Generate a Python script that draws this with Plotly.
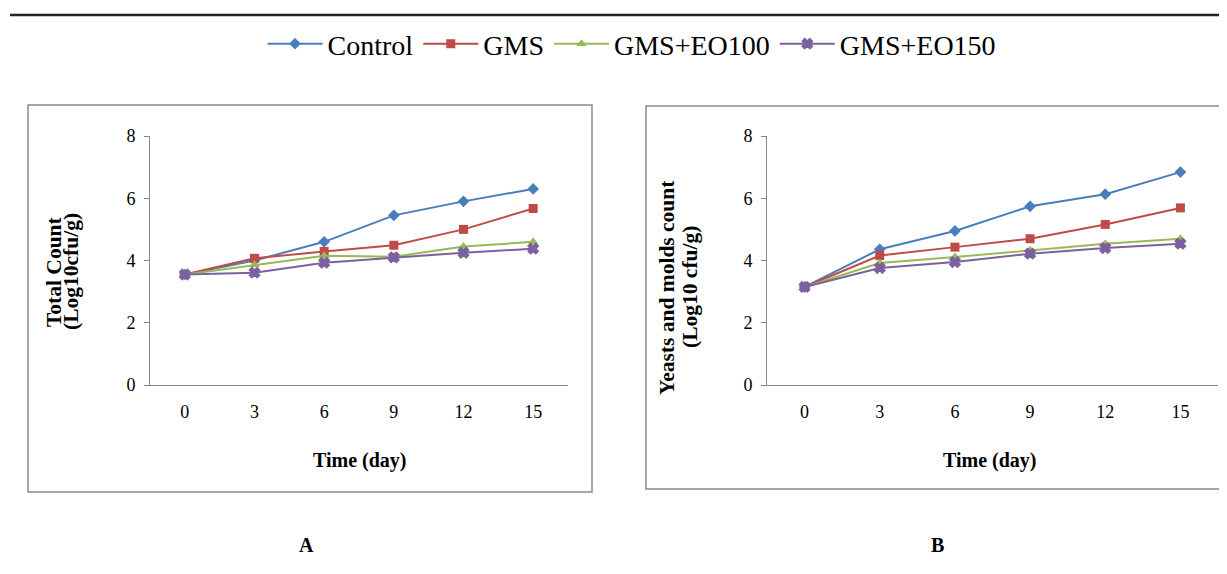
import plotly.graph_objects as go

days = ["0", "3", "6", "9", "12", "15"]
series_names = ["Control", "GMS", "GMS+EO100", "GMS+EO150"]

# Panel A: Total Count (Log10 cfu/g)
total_control = [3.55, 4.0, 4.6, 5.45, 5.9, 6.3]
total_gms = [3.55, 4.07, 4.29, 4.49, 5.0, 5.67]
total_eo100 = [3.55, 3.86, 4.15, 4.12, 4.45, 4.6]
total_eo150 = [3.55, 3.61, 3.93, 4.1, 4.25, 4.38]

# Panel B: Yeasts and molds count (Log10 cfu/g)
ym_control = [3.15, 4.36, 4.95, 5.74, 6.13, 6.84]
ym_gms = [3.15, 4.16, 4.43, 4.7, 5.16, 5.69]
ym_eo100 = [3.15, 3.92, 4.11, 4.33, 4.54, 4.7]
ym_eo150 = [3.15, 3.76, 3.95, 4.22, 4.4, 4.54]

colors = ["#4A7EBB", "#BE4B48", "#98B954", "#7D60A0"]
symbols = ["diamond", "square", "triangle-up", "x"]

W, H = 1227, 574
OFF = 8  # page body offset
SERIF = "Liberation Serif"

def px(x):
    return (x - OFF) / W

def py(y):
    return 1 - (y - OFF) / H

fig = go.Figure()

panelA = [total_control, total_gms, total_eo100, total_eo150]
panelB = [ym_control, ym_gms, ym_eo100, ym_eo150]

def add_panel(data, xa, ya, show):
    for i, name in enumerate(series_names):
        fig.add_trace(go.Scatter(
            x=days, y=data[i], name=name, mode="lines+markers",
            line=dict(color=colors[i], width=2),
            marker=dict(symbol=symbols[i], size=9, color=colors[i],
                        line=dict(color=colors[i], width=1.5 if symbols[i] == "x" else 0)),
            xaxis=xa, yaxis=ya, showlegend=show, legendgroup=name,
        ))

add_panel(panelA, "x", "y", True)
add_panel(panelB, "x2", "y2", False)

axis_gray = "#868686"
tickfont = dict(family=SERIF, size=18, color="#000")

xcommon = dict(type="category", range=[-0.5, 5.5], showline=True, linecolor=axis_gray,
               linewidth=1, showgrid=False, zeroline=False, ticks="", tickfont=tickfont,
               ticklabelstandoff=10, fixedrange=True, automargin=False)
ycommon = dict(range=[0, 8], dtick=2, showline=True, linecolor=axis_gray, linewidth=1,
               showgrid=False, zeroline=False, ticks="outside", ticklen=5, tickcolor=axis_gray,
               tickfont=tickfont, ticklabelstandoff=5, fixedrange=True, automargin=False)

fig.update_layout(
    width=W, height=H,
    margin=dict(l=0, r=0, t=0, b=0, pad=0, autoexpand=False),
    paper_bgcolor="white", plot_bgcolor="white",
    xaxis=dict(domain=[px(150), px(568)], anchor="y", **xcommon),
    yaxis=dict(domain=[py(385), py(136)], anchor="x", **ycommon),
    xaxis2=dict(domain=[px(767), px(1218)], anchor="y2", **xcommon),
    yaxis2=dict(domain=[py(385), py(136)], anchor="x2", **ycommon),
    legend=dict(orientation="h", x=px(632), xanchor="center", y=py(44), yanchor="middle",
                font=dict(family=SERIF, size=28, color="#000"), bgcolor="rgba(0,0,0,0)",
                itemwidth=55, tracegroupgap=0),
    showlegend=True,
)

shapes = [
    dict(type="line", xref="paper", yref="paper", x0=px(10), x1=1.0, y0=py(15), y1=py(15),
         line=dict(color="#222", width=2.5)),
    dict(type="rect", xref="paper", yref="paper", x0=px(28), x1=px(592), y0=py(492), y1=py(105),
         line=dict(color="#8a8a8a", width=1.5)),
    dict(type="rect", xref="paper", yref="paper", x0=px(646), x1=px(1245), y0=py(489), y1=py(106),
         line=dict(color="#8a8a8a", width=1.5)),
]
fig.update_layout(shapes=shapes)

bold = dict(family=SERIF, size=20, color="#000")
ytitle_font = dict(family=SERIF, size=21.5, color="#000")

def ann(text, x, y, font, angle=0):
    return dict(text=text, x=px(x), y=py(y), xref="paper", yref="paper", showarrow=False,
                font=font, textangle=angle, xanchor="center", yanchor="middle")

annotations = [
    ann("<b>Time (day)</b>", 360, 460, bold),
    ann("<b>Time (day)</b>", 990, 460, bold),
    ann("<b>Total Count</b>", 54, 272, ytitle_font, -90),
    ann("<b>(Log10cfu/g)</b>", 71, 272, ytitle_font, -90),
    ann("<b>Yeasts and molds count</b>", 667, 288, ytitle_font, -90),
    ann("<b>(Log10 cfu/g)</b>", 690, 287, ytitle_font, -90),
    ann("<b>A</b>", 306, 545, bold),
    ann("<b>B</b>", 937, 545, bold),
]
fig.update_layout(annotations=annotations)

fig.write_html("out.html")
